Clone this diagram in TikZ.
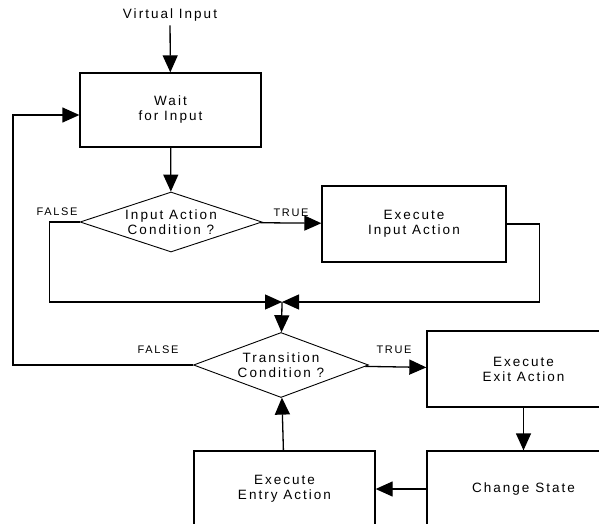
\documentclass[tikz,border=0pt]{standalone}
\usepackage{fontspec}
\setmainfont{Liberation Sans}[LetterSpace=15]
\usetikzlibrary{arrows.meta,shapes.geometric}
\begin{document}
\begin{tikzpicture}[x=1pt,y=-1pt,line width=1.3pt,
    font=\fontsize{13.5}{15}\selectfont,
    box/.style={draw,rectangle,align=center,inner sep=0pt},
    test/.style={draw,diamond,aspect=3,align=center,inner sep=0pt,line width=0.9pt},
    flow/.style={-{Triangle[length=17pt,width=15pt]}},
    lbl/.style={font=\fontsize{11}{12}\selectfont}]
  \useasboundingbox (0,0) rectangle (599,524);
  \draw
    (170,15) node (vin){Virtual Input}
    (170.5,110) node[box,minimum width=181,minimum height=74] (wait){Wait\\for Input}
    (171,222) node[test,minimum width=182,minimum height=60] (cond1){Input Action\\Condition ?}
    (414,224) node[box,minimum width=184,minimum height=76] (inact){Execute\\Input Action}
    (281,365) node[test,minimum width=175,minimum height=65] (cond2){Transition\\Condition ?}
    (523.5,369) node[box,minimum width=193,minimum height=76] (exit){Execute\\Exit Action}
    (523.5,489) node[box,minimum width=193,minimum height=76] (chg){Change State}
    (284.5,489) node[box,minimum width=181,minimum height=76] (entry){Execute\\Entry Action};
  \draw
    (57,212) node[lbl] (f1){FALSE}
    (291,213) node[lbl] (t1){TRUE}
    (158,350) node[lbl] (f2){FALSE}
    (394,350) node[lbl] (t2){TRUE};
  \coordinate (merge) at (282,302);
  \coordinate (back) at (13,365);
  \begin{scope}[flow]
    \draw (vin) to (wait);
    \draw (wait) to (cond1);
    \draw (cond1) to (inact);
    \draw (cond1.west) -- ++(-30,0) |- (merge);
    \draw (inact.east) -- ++(33,0) |- (merge);
    \draw (merge) to (cond2);
    \draw (cond2) to (exit);
    \draw (exit) to (chg);
    \draw (chg) to (entry);
    \draw (entry) to (cond2);
    \draw (cond2.west) -- (back) |- ([yshift=-5pt]wait.west);
  \end{scope}
\end{tikzpicture}
\end{document}
